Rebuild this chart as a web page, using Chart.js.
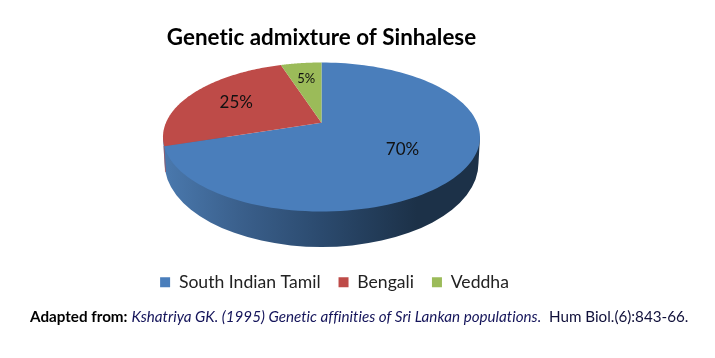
<!DOCTYPE html>
<html>
<head>
<meta charset="utf-8">
<script src="https://cdn.jsdelivr.net/npm/chart.js@4"></script>
<style>
  html, body { margin: 0; background: #fff; }
  #wrap { position: relative; width: 715px; height: 358px; overflow: hidden; }
  #note { position: absolute; left: 30px; top: 307px; font: 15.2px Lato, sans-serif; font-variant-ligatures: none;
          color: #10103a; white-space: nowrap; }
  #note b { color: #000; }
  #note i { color: #14145a; }
</style>
</head>
<body>
<div id="wrap">
  <canvas id="pie3d" width="715" height="358"></canvas>
  <div id="note"><b>Adapted from:</b> <i>Kshatriya GK. (1995) Genetic affinities of Sri Lankan populations.</i>&nbsp; Hum Biol.(6):843-66.</div>
</div>
<script>
var groups = ['South Indian Tamil', 'Bengali', 'Veddha'];
var shares = [70, 25, 5];
var sliceColors = ['#4a7ebb', '#be4b48', '#9bbb59'];

// look of the tilted disc
var cx = 321.5, cy = 137, rx = 158.5, ry = 74.5;
var apexShift = -14.3;              // the middle of the pie sits above the middle of the ellipse
var labelRadius = [0.6, 0.65, 0.71];
var labelSize = [17, 17, 13];
var legendShift = 13;               // legend is not centred under the title in the original

var c = apexShift / ry;
var d = rx * Math.sqrt(1 - c * c);

// point on the flat pie (radius 1) to point on the tilted one
function project(r, angle) {
  var u = r * Math.cos(angle), v = r * Math.sin(angle);
  var w = 1 + c * v;
  return { x: cx + d * u / w, y: cy + (ry * v + apexShift) / w };
}

var tiltedPie = {
  id: 'tiltedPie',
  afterLayout: function (chart) {
    chart.legend.left += legendShift;
    chart.legend.right += legendShift;
  },
  beforeDraw: function (chart) {
    chart.ctx.textRendering = 'optimizeSpeed';  // no "ti" ligature in the title
  },
  beforeDatasetsDraw: function (chart) {
    var g = chart.ctx;
    var arcs = chart.getDatasetMeta(0).data;

    // side wall
    var wall = g.createLinearGradient(cx - rx, 0, cx + rx, 0);
    wall.addColorStop(0, '#4a79ae');
    wall.addColorStop(0.25, '#3a5f8b');
    wall.addColorStop(0.5, '#2b4a6e');
    wall.addColorStop(0.8, '#1c3148');
    wall.addColorStop(1, '#1c3148');
    g.save();
    g.fillStyle = wall;
    g.beginPath();
    g.moveTo(cx - rx, cy);
    g.ellipse(cx, 163, 157, 84, 0, Math.PI, 0, true);
    g.lineTo(cx + rx, cy);
    g.closePath();
    g.fill();

    // thin red edge left of the wall
    g.strokeStyle = 'rgba(190, 75, 72, 0.6)';
    g.beginPath();
    g.moveTo(164, 146);
    g.lineTo(165.5, 172);
    g.stroke();

    // top face, one slice per arc of the chart
    arcs.forEach(function (arc, i) {
      var a0 = arc.startAngle, a1 = arc.endAngle;
      var p = project(0, 0);
      g.beginPath();
      g.moveTo(p.x, p.y);
      for (var s = 0; s <= 120; s++) {
        p = project(1, a0 + (a1 - a0) * s / 120);
        g.lineTo(p.x, p.y);
      }
      g.closePath();
      g.fillStyle = sliceColors[i];
      g.fill();
    });

    // value labels
    g.fillStyle = '#111';
    g.textAlign = 'center';
    g.textBaseline = 'middle';
    arcs.forEach(function (arc, i) {
      var p = project(labelRadius[i], (arc.startAngle + arc.endAngle) / 2);
      g.font = labelSize[i] + 'px Lato, sans-serif';
      g.fillText(shares[i] + '%', p.x, p.y);
    });
    g.restore();
    return false;
  }
};

new Chart(document.getElementById('pie3d'), {
  type: 'pie',
  data: {
    labels: groups,
    datasets: [{ data: shares, backgroundColor: sliceColors, borderWidth: 0 }]
  },
  options: {
    responsive: false,
    animation: false,
    layout: { padding: { right: 72, bottom: 57 } },
    plugins: {
      tooltip: { enabled: false },
      title: {
        display: true,
        text: 'Genetic admixture of Sinhalese',
        color: '#000',
        font: { family: 'Lato', size: 22.4, weight: 'bold' },
        padding: { top: 24, bottom: 10 }
      },
      legend: {
        position: 'bottom',
        labels: {
          color: '#222',
          font: { family: 'Lato', size: 17.6 },
          boxWidth: 10,
          boxHeight: 10,
          padding: 18
        }
      }
    }
  },
  plugins: [tiltedPie]
});
</script>
</body>
</html>
